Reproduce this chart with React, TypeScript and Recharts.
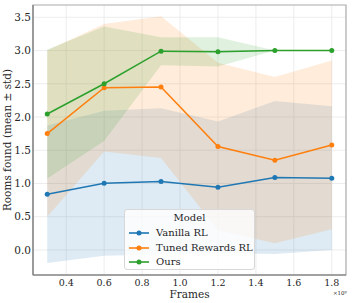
import React from "react";
import {
  ComposedChart,
  Area,
  Line,
  XAxis,
  YAxis,
  CartesianGrid,
  Legend,
  ReferenceArea,
} from "recharts";

const frames = [0.3, 0.6, 0.9, 1.2, 1.5, 1.8];
const vanillaMean = [0.838, 1.004, 1.03, 0.944, 1.09, 1.08];
const vanillaStd = [1.035, 1.09, 1.1, 0.99, 1.15, 1.08];
const tunedMean = [1.75, 2.44, 2.45, 1.555, 1.35, 1.58];
const tunedStd = [1.25, 0.96, 1.065, 1.26, 1.25, 1.27];
const oursMean = [2.045, 2.5, 2.99, 2.98, 3.0, 3.0];
const oursStd = [0.97, 0.86, 0.21, 0.22, 0.0, 0.0];

const xTicks = [0.4, 0.6, 0.8, 1.0, 1.2, 1.4, 1.6, 1.8];
const yTicks = [0.0, 0.5, 1.0, 1.5, 2.0, 2.5, 3.0, 3.5];
const xDomain = [0.225, 1.875];
const yDomain = [-0.377, 3.685];

const seriesNames = ["Vanilla RL", "Tuned Rewards RL", "Ours"];
const colors = ["#1f77b4", "#ff7f0e", "#2ca02c"];

const data = frames.map((f, i) => ({
  f,
  v: vanillaMean[i],
  t: tunedMean[i],
  o: oursMean[i],
  vb: [vanillaMean[i] - vanillaStd[i], vanillaMean[i] + vanillaStd[i]],
  tb: [tunedMean[i] - tunedStd[i], tunedMean[i] + tunedStd[i]],
  ob: [oursMean[i] - oursStd[i], oursMean[i] + oursStd[i]],
}));

const FONT = "DejaVu Serif";
const TEXT = "#262626";

const XTick = (props: any) => {
  const { x, y, payload } = props;
  return (
    <text x={x} y={y} dy="0.75em" textAnchor="middle" fontFamily={FONT} fontSize={9.5} fill={TEXT}>
      {Number(payload.value).toFixed(1)}
    </text>
  );
};

const YTick = (props: any) => {
  const { x, y, payload } = props;
  return (
    <text x={x} y={y} dy="0.36em" textAnchor="end" fontFamily={FONT} fontSize={10.5} fill={TEXT}>
      {Number(payload.value).toFixed(1)}
    </text>
  );
};

const LegendBox = () => (
  <div
    style={{
      width: 131,
      height: 61,
      boxSizing: "border-box",
      background: "rgba(255,255,255,0.8)",
      border: "1px solid #d8d8d8",
      borderRadius: 3,
      fontFamily: FONT,
      fontSize: 10,
      fontWeight: 400,
      color: TEXT,
      position: "relative",
    }}
  >
    <div style={{ position: "absolute", top: 1, left: 0, width: "100%", textAlign: "center", lineHeight: "14px" }}>
      Model
    </div>
    {seriesNames.map((n, i) => (
      <div
        key={n}
        style={{ position: "absolute", top: 16 + i * 14.5, left: 0, height: 14, width: "100%" }}
      >
        <svg width={26} height={14} style={{ position: "absolute", left: 3, top: 0 }}>
          <line x1={1} y1={7} x2={21} y2={7} stroke={colors[i]} strokeWidth={1.6} />
          <circle cx={11} cy={7} r={2.5} fill={colors[i]} />
        </svg>
        <span style={{ position: "absolute", left: 31, top: 0, lineHeight: "14px", whiteSpace: "nowrap" }}>{n}</span>
      </div>
    ))}
  </div>
);

export default function App() {
  return (
    <div
      style={{
        position: "absolute",
        left: 0,
        top: 0,
        width: 352,
        height: 303,
        background: "#fff",
        fontFamily: FONT,
      }}
    >
      <ComposedChart
        width={352}
        height={303}
        data={data}
        margin={{ top: 5, right: 6, left: 0, bottom: 0 }}
        style={{ fontFamily: FONT }}
      >
        <CartesianGrid stroke="#e8e8e8" strokeWidth={0.8} verticalValues={xTicks} horizontalValues={yTicks} />
        <XAxis
          dataKey="f"
          type="number"
          domain={xDomain}
          ticks={xTicks}
          allowDataOverflow
          height={28}
          tickLine={false}
          tickSize={0}
          tickMargin={4}
          axisLine={{ stroke: "#6e6e6e", strokeWidth: 1.2 }}
          tick={<XTick />}
          label={{
            value: "Frames",
            position: "insideBottom",
            offset: 5,
            fontSize: 10.5,
            fill: TEXT,
            style: { fontFamily: FONT },
          }}
        />
        <YAxis
          type="number"
          domain={yDomain}
          ticks={yTicks}
          allowDataOverflow
          width={33}
          tickLine={false}
          tickSize={0}
          tickMargin={2}
          axisLine={{ stroke: "#7a7a7a", strokeWidth: 1.2 }}
          tick={<YTick />}
          label={{
            value: "Rooms found (mean ± std)",
            angle: -90,
            position: "insideLeft",
            offset: 0,
            dx: 7,
            fontSize: 10.5,
            fill: TEXT,
            style: { textAnchor: "middle", fontFamily: FONT },
          }}
        />
        <ReferenceArea
          x1={xDomain[0]}
          x2={xDomain[1]}
          y1={yDomain[0]}
          y2={yDomain[1]}
          fill="none"
          stroke="#aaaaaa"
          strokeWidth={1.2}
          ifOverflow="visible"
        />
        <Area type="linear" dataKey="vb" stroke="none" fill={colors[0]} fillOpacity={0.15} isAnimationActive={false} activeDot={false} />
        <Area type="linear" dataKey="tb" stroke="none" fill={colors[1]} fillOpacity={0.15} isAnimationActive={false} activeDot={false} />
        <Area type="linear" dataKey="ob" stroke="none" fill={colors[2]} fillOpacity={0.15} isAnimationActive={false} activeDot={false} />
        <Line type="linear" dataKey="v" stroke={colors[0]} strokeWidth={1.5} dot={{ r: 2.5, fill: colors[0], stroke: "none" }} isAnimationActive={false} />
        <Line type="linear" dataKey="t" stroke={colors[1]} strokeWidth={1.5} dot={{ r: 2.5, fill: colors[1], stroke: "none" }} isAnimationActive={false} />
        <Line type="linear" dataKey="o" stroke={colors[2]} strokeWidth={1.5} dot={{ r: 2.5, fill: colors[2], stroke: "none" }} isAnimationActive={false} />
        <Legend
          layout="vertical"
          align="center"
          verticalAlign="middle"
          content={() => <LegendBox />}
          wrapperStyle={{ left: 124, top: 209, width: 131, height: 61 }}
        />
        <text x={333} y={295} textAnchor="start" fontSize={5.5} fill={TEXT} fontFamily={FONT}>
          ×10⁹
        </text>
      </ComposedChart>
    </div>
  );
}
